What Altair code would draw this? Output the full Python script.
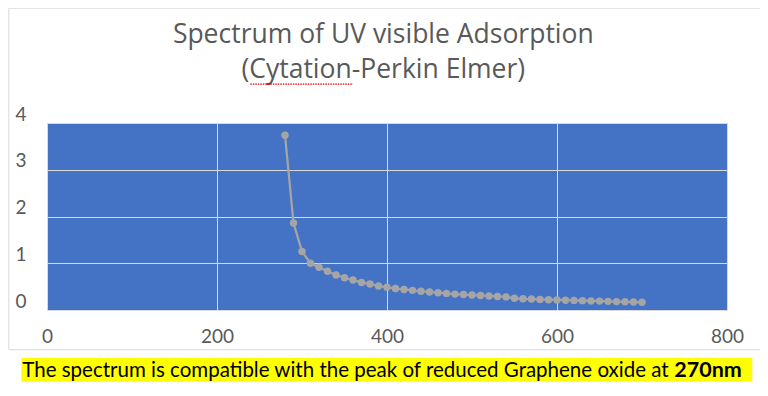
import altair as alt
import pandas as pd

wavelength = [280, 290, 300, 310, 320, 330, 340, 350, 360, 370, 380, 390, 400,
              410, 420, 430, 440, 450, 460, 470, 480, 490, 500, 510, 520, 530,
              540, 550, 560, 570, 580, 590, 600, 610, 620, 630, 640, 650, 660,
              670, 680, 690, 700]
absorbance = [3.74, 1.86, 1.25, 1.00, 0.915, 0.83, 0.75, 0.69, 0.64, 0.59, 0.555,
              0.515, 0.485, 0.46, 0.44, 0.42, 0.40, 0.385, 0.37, 0.355, 0.34, 0.33,
              0.32, 0.31, 0.30, 0.29, 0.28, 0.25, 0.24, 0.235, 0.225, 0.22, 0.214,
              0.21, 0.205, 0.20, 0.195, 0.19, 0.185, 0.18, 0.175, 0.17, 0.165]
x_ticks = [0, 200, 400, 600, 800]
y_ticks = [0, 1, 2, 3, 4]
title_line1 = "Spectrum of UV visible Adsorption"
title_line2 = "(Cytation-Perkin Elmer)"
footer_text = "The spectrum is compatible with the peak of reduced Graphene oxide at"
footer_bold = "270nm"

df = pd.DataFrame({"wavelength": wavelength, "absorbance": absorbance})
FONT = "Lato"
TFONT = "Open Sans"
W, H = 680, 187

x_enc = alt.X("wavelength:Q", scale=alt.Scale(domain=[0, 800], nice=False),
              axis=alt.Axis(values=x_ticks, title=None, domain=False, ticks=False,
                            labelFlush=False,
                            labelFontSize=19, labelColor="#595959", labelFont=FONT,
                            labelPadding=17, gridColor="#d9d9d9", gridWidth=1))
y_enc = alt.Y("absorbance:Q", scale=alt.Scale(domain=[0, 4], nice=False),
              axis=alt.Axis(values=y_ticks, title=None, domain=False, ticks=False,
                            labelFlush=False,
                            labelFontSize=19, labelColor="#595959", labelFont=FONT,
                            labelPadding=21, labelOffset=-9, gridColor="#d9d9d9", gridWidth=1))

base = alt.Chart(df)
line = base.mark_line(color="#A5A5A5", strokeWidth=2.25).encode(x=x_enc, y=y_enc)
pts = base.mark_circle(color="#A5A5A5", size=55, opacity=1).encode(x="wavelength:Q", y="absorbance:Q")

one = alt.Data(values=[{"a": 1}])
frame = alt.Chart(one).mark_rect(fill=None, stroke="#d9d9d9", strokeWidth=1).encode(
    x=alt.value(-38.2), x2=alt.value(718.3), y=alt.value(-114.8), y2=alt.value(226.7))
t1 = alt.Chart(one).mark_text(text=title_line1, align="center", baseline="alphabetic",
                              font=TFONT, fontSize=26.5, color="#595959").encode(
    x=alt.value(336.3), y=alt.value(-80.3))
t2 = alt.Chart(one).mark_text(text=title_line2, align="center", baseline="alphabetic",
                              font=TFONT, fontSize=26.5, color="#595959").encode(
    x=alt.value(336.3), y=alt.value(-44.8))
squig = alt.Chart(one).mark_rule(color="#e00000", strokeWidth=1.2, strokeDash=[1.5, 1]).encode(
    x=alt.value(203.3), x2=alt.value(306), y=alt.value(-38.8))
box = alt.Chart(one).mark_rect(fill="#FFFF00").encode(
    x=alt.value(-25.7), x2=alt.value(705.3), y=alt.value(234.7), y2=alt.value(258.7))
ftxt = alt.Chart(one).mark_text(text=footer_text, align="left", baseline="alphabetic",
                                font=FONT, fontSize=20.5, color="#000000").encode(
    x=alt.value(-24.7), y=alt.value(253.7))
fbold = alt.Chart(one).mark_text(text=footer_bold, align="left", baseline="alphabetic",
                                 font=FONT, fontSize=21.5, fontWeight="bold", color="#000000").encode(
    x=alt.value(627.3), y=alt.value(253.7))

chart = alt.layer(frame, line, pts, t1, t2, squig, box, ftxt, fbold).properties(
    width=W, height=H,
    autosize=alt.AutoSizeParams(type="none"),
    padding={"left": 39, "top": 115, "right": 33, "bottom": 76},
).configure_view(fill="#4472C4", stroke="#d9d9d9", strokeWidth=1)

chart.save("out.html", embed_options={"renderer": "svg", "actions": False})
